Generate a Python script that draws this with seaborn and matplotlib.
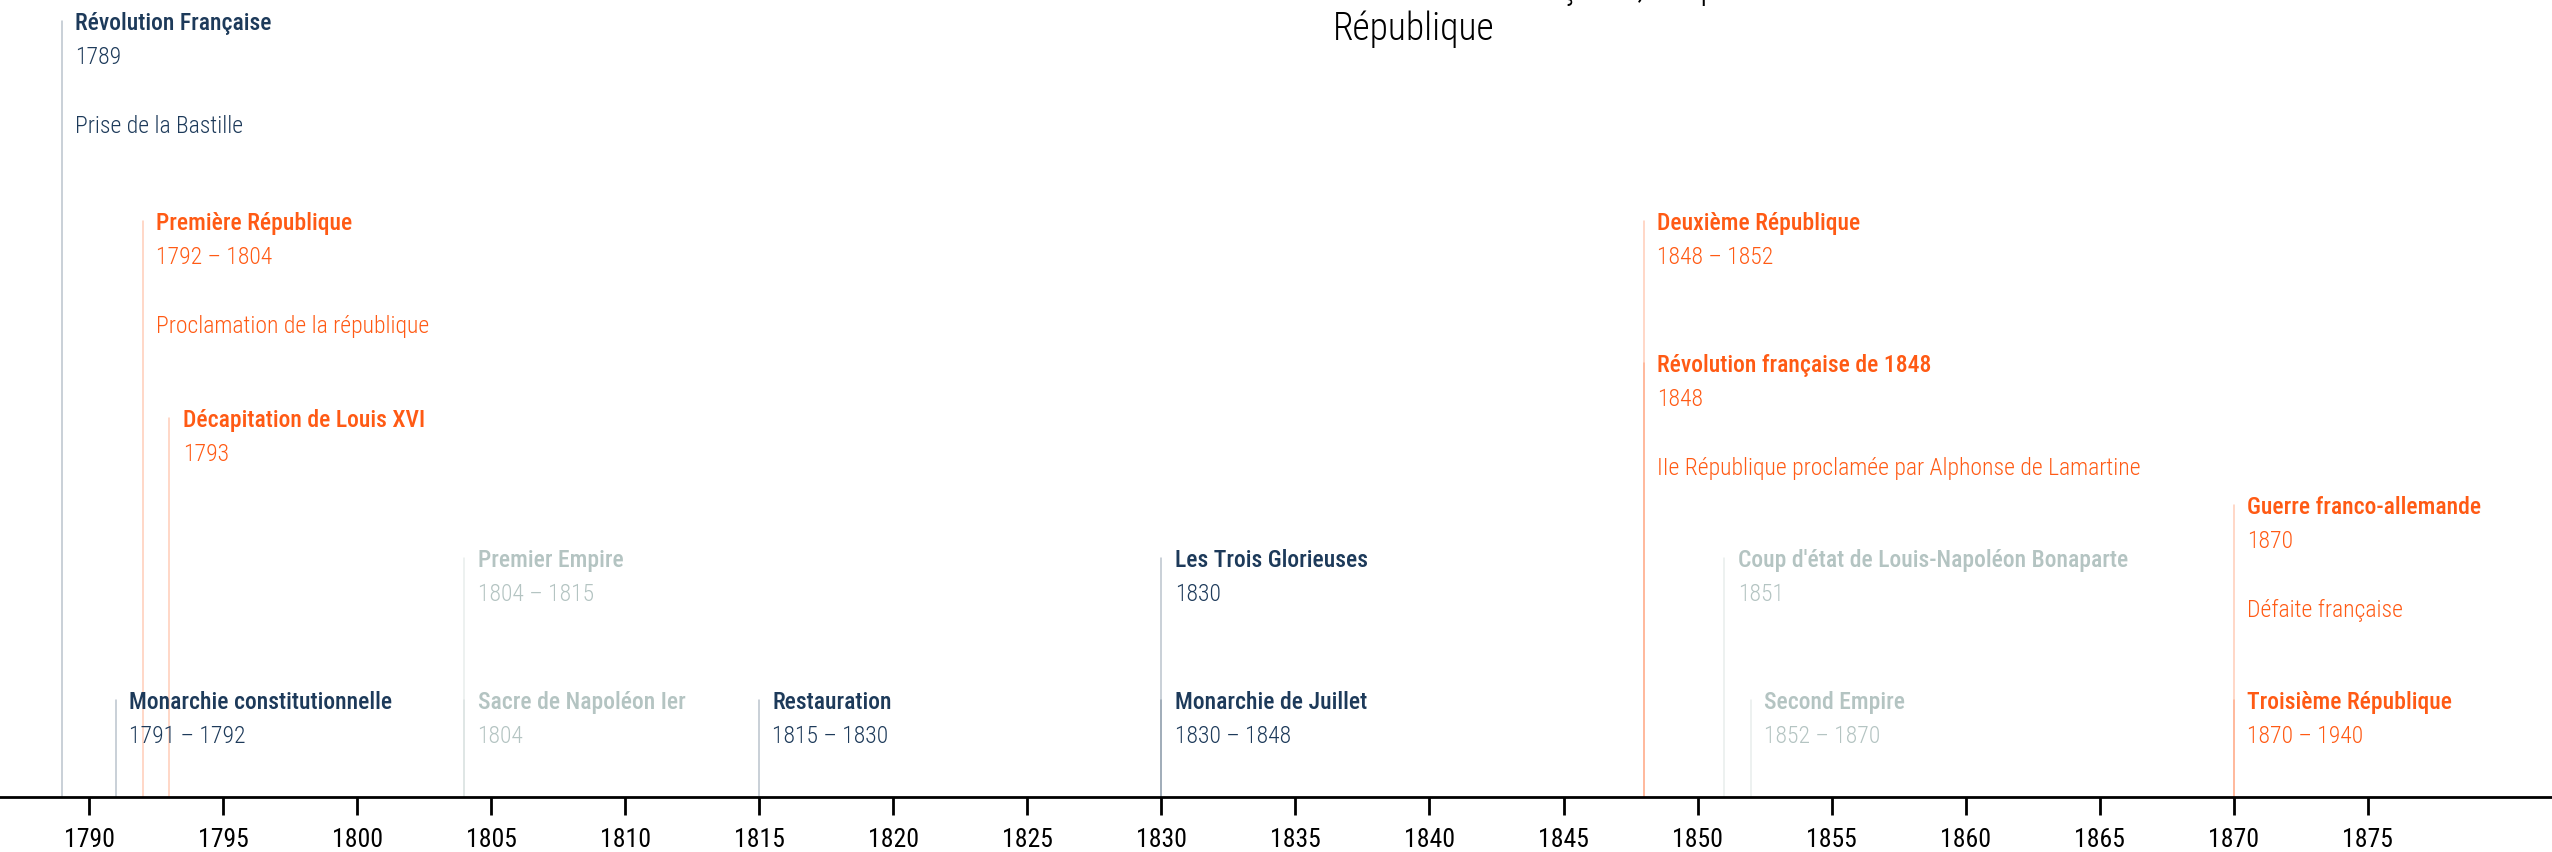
import matplotlib
matplotlib.use('Agg')
import matplotlib.pyplot as plt
from matplotlib import font_manager
import seaborn as sns
import pandas as pd

# events of the timeline
years = [1789, 1791, 1792, 1793, 1804, 1804, 1815, 1830, 1830,
         1848, 1848, 1851, 1852, 1870, 1870]
titles = [
    "Révolution Française",
    "Monarchie constitutionnelle",
    "Première République",
    "Décapitation de Louis XVI",
    "Premier Empire",
    "Sacre de Napoléon Ier",
    "Restauration",
    "Les Trois Glorieuses",
    "Monarchie de Juillet",
    "Deuxième République",
    "Révolution française de 1848",
    "Coup d'état de Louis-Napoléon Bonaparte",
    "Second Empire",
    "Guerre franco-allemande",
    "Troisième République",
]
dates = ["1789", "1791 – 1792", "1792 – 1804", "1793", "1804 – 1815", "1804",
         "1815 – 1830", "1830", "1830 – 1848", "1848 – 1852", "1848", "1851",
         "1852 – 1870", "1870", "1870 – 1940"]
descriptions = ["Prise de la Bastille", "", "Proclamation de la république", "",
                "", "", "", "", "", "",
                "IIe République proclamée par Alphonse de Lamartine",
                "", "", "Défaite française", ""]
groups = ["monarchie", "monarchie", "republique", "republique", "empire", "empire",
          "monarchie", "monarchie", "monarchie", "republique", "republique",
          "empire", "empire", "republique", "republique"]
# stem heights (label level above the axis)
levels = [776, 97, 576, 379, 239, 97, 97, 239, 97, 576, 434, 239, 97, 292, 97]

tick_years = list(range(1790, 1880, 5))
title = "De la Monarchie à la Révolution française, Empire et\nRépublique"

palette = {"monarchie": "#1d3a5a", "republique": "#ff5a14", "empire": "#b4c4c2"}

names = {f.name for f in font_manager.fontManager.ttflist}
narrow = next((n for n in ["Roboto Condensed", "Liberation Sans Narrow", "Liberation Sans"]
               if n in names), "DejaVu Sans")

sns.set_theme(style="white")
plt.rcParams['font.family'] = [narrow, 'DejaVu Sans']

events = pd.DataFrame({"year": years, "title": titles, "date": dates,
                       "desc": descriptions, "group": groups, "level": levels})

# two points per stem: on the axis and at the label level
stems = pd.concat([
    events.assign(h=0.0).reset_index(names="event"),
    events.assign(h=events["level"].astype(float)).reset_index(names="event"),
]).sort_values(["event", "h"])

fig = plt.figure(figsize=(25.52, 8.52), dpi=100)
ax = fig.add_axes([0, 55 / 852, 1, 797 / 852])

sns.lineplot(data=stems, x="year", y="h", hue="group", units="event", estimator=None,
             sort=False, palette=palette, alpha=0.3, linewidth=1.1, legend=False, ax=ax)

for _, ev in events.iterrows():
    col = palette[ev["group"]]
    ax.annotate(ev["title"], xy=(ev["year"], ev["level"]), xytext=(9.5, -1.5),
                textcoords="offset points", ha="left", va="center",
                fontsize=17, fontweight="medium", color=col)
    ax.annotate(ev["date"], xy=(ev["year"], ev["level"]), xytext=(9.5, -26),
                textcoords="offset points", ha="left", va="center",
                fontsize=17, fontweight="light", color=col)
    if ev["desc"]:
        ax.annotate(ev["desc"], xy=(ev["year"], ev["level"]), xytext=(9.5, -76),
                    textcoords="offset points", ha="left", va="center",
                    fontsize=17, fontweight="light", color=col)

ax.set_xlim(1786.68, 1881.87)
ax.set_ylim(0, 797)
ax.set_xticks(tick_years)
ax.set_yticks([])
ax.set_xlabel("")
ax.set_ylabel("")
ax.tick_params(axis="x", bottom=True, direction="out", length=13, width=2,
               pad=9.5, labelsize=18.5, colors="black")
sns.despine(ax=ax, left=True)
ax.spines["bottom"].set_color("black")
ax.spines["bottom"].set_linewidth(2)

fig.text(0.554, 1 - 48 / 852, title, ha="center", va="bottom", fontsize=27,
         fontweight="light", color="black", linespacing=1.15)

fig.savefig("out.png", dpi=100)
